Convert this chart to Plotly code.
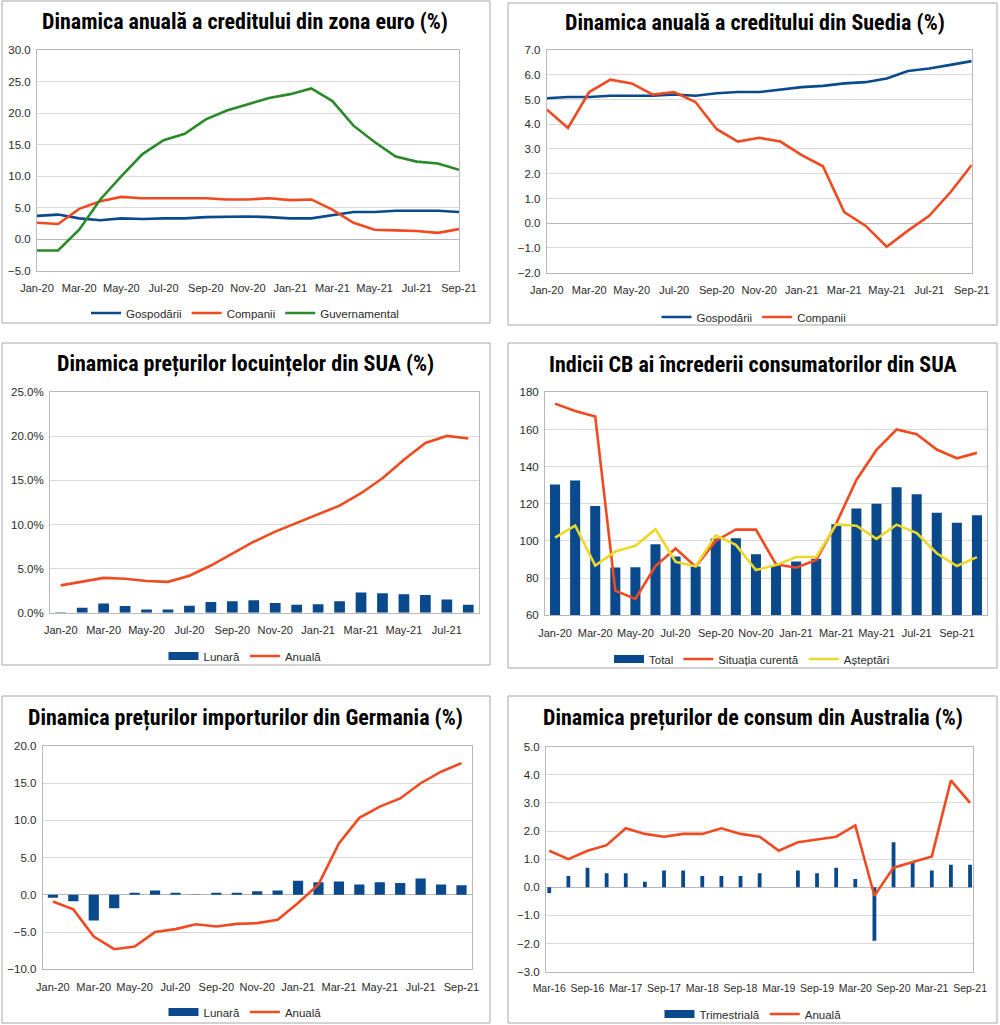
import plotly.graph_objects as go

# ---------------- data ----------------
months = ["Jan-20", "Feb-20", "Mar-20", "Apr-20", "May-20", "Jun-20", "Jul-20", "Aug-20",
          "Sep-20", "Oct-20", "Nov-20", "Dec-20", "Jan-21", "Feb-21", "Mar-21", "Apr-21",
          "May-21", "Jun-21", "Jul-21", "Aug-21", "Sep-21", "Oct-21"]
quarters = ["Mar-16", "Jun-16", "Sep-16", "Dec-16", "Mar-17", "Jun-17", "Sep-17", "Dec-17",
            "Mar-18", "Jun-18", "Sep-18", "Dec-18", "Mar-19", "Jun-19", "Sep-19", "Dec-19",
            "Mar-20", "Jun-20", "Sep-20", "Dec-20", "Mar-21", "Jun-21", "Sep-21"]

ez_gosp = [3.7, 3.9, 3.3, 3.0, 3.3, 3.2, 3.3, 3.3, 3.5, 3.6, 3.6, 3.5, 3.3, 3.3, 3.8, 4.3, 4.3, 4.5, 4.5, 4.5, 4.3]
ez_comp = [2.6, 2.4, 4.8, 6.0, 6.7, 6.5, 6.5, 6.5, 6.5, 6.3, 6.3, 6.5, 6.2, 6.3, 4.7, 2.6, 1.5, 1.4, 1.3, 1.0, 1.6]
ez_guv = [-1.8, -1.8, 1.5, 6.3, 10.0, 13.5, 15.7, 16.7, 19.0, 20.4, 21.4, 22.4, 23.0, 23.9, 21.9, 18.0, 15.4, 13.1, 12.3, 12.0, 11.0]

se_gosp = [5.05, 5.1, 5.1, 5.15, 5.15, 5.15, 5.2, 5.15, 5.25, 5.3, 5.3, 5.4, 5.5, 5.55, 5.65, 5.7, 5.85, 6.15, 6.25, 6.4, 6.55]
se_comp = [4.6, 3.85, 5.3, 5.8, 5.65, 5.2, 5.3, 4.9, 3.8, 3.3, 3.45, 3.3, 2.75, 2.3, 0.45, -0.1, -0.95, -0.3, 0.3, 1.25, 2.35]

us_hp_lunara = [0.05, 0.55, 1.05, 0.75, 0.35, 0.35, 0.8, 1.2, 1.3, 1.4, 1.1, 0.9, 0.95, 1.3, 2.3, 2.2, 2.1, 2.0, 1.5, 0.9]
us_hp_anuala = [3.1, 3.5, 3.95, 3.85, 3.6, 3.5, 4.2, 5.35, 6.7, 8.05, 9.2, 10.2, 11.2, 12.15, 13.55, 15.25, 17.35, 19.25, 20.05, 19.75]

cb_total = [130.4, 132.6, 118.8, 85.7, 85.9, 98.3, 91.7, 86.3, 101.3, 101.4, 92.9, 87.1, 88.9, 90.4, 109.0, 117.5, 120.0, 128.9, 125.1, 115.2, 109.8, 113.8]
cb_curenta = [173.9, 169.9, 167.0, 73.3, 68.8, 86.5, 95.9, 86.2, 100.0, 106.2, 106.1, 87.4, 85.6, 89.8, 109.5, 132.8, 149.0, 160.0, 157.5, 149.2, 144.5, 147.4]
cb_asteptari = [101.8, 108.3, 86.8, 94.3, 97.4, 106.3, 88.8, 86.4, 103.0, 97.9, 84.4, 87.0, 91.4, 91.4, 108.9, 108.2, 101.1, 108.8, 104.3, 93.4, 86.5, 91.3]

de_lunara = [-0.4, -0.85, -3.45, -1.8, 0.3, 0.58, 0.3, 0.05, 0.3, 0.3, 0.5, 0.6, 1.88, 1.7, 1.8, 1.4, 1.7, 1.6, 2.2, 1.4, 1.3]
de_anuala = [-0.9, -1.95, -5.6, -7.3, -6.95, -5.0, -4.6, -3.95, -4.25, -3.9, -3.8, -3.35, -1.1, 1.4, 6.9, 10.35, 11.85, 12.95, 15.0, 16.55, 17.7]

au_trim = [-0.2, 0.4, 0.7, 0.5, 0.5, 0.2, 0.6, 0.6, 0.4, 0.4, 0.4, 0.5, 0.0, 0.6, 0.5, 0.7, 0.3, -1.9, 1.6, 0.9, 0.6, 0.8, 0.8]
au_anuala = [1.3, 1.0, 1.3, 1.5, 2.1, 1.9, 1.8, 1.9, 1.9, 2.1, 1.9, 1.8, 1.3, 1.6, 1.7, 1.8, 2.2, -0.3, 0.7, 0.9, 1.1, 3.8, 3.0]

titles = ["Dinamica anuală a creditului din zona euro (%)",
          "Dinamica anuală a creditului din Suedia (%)",
          "Dinamica prețurilor locuințelor din SUA (%)",
          "Indicii CB ai încrederii consumatorilor din SUA",
          "Dinamica prețurilor importurilor din Germania (%)",
          "Dinamica prețurilor de consum din Australia (%)"]

# ---------------- style ----------------
BLUE = "#0a4a8c"
ORANGE = "#f04a20"
GREEN = "#2a8a2a"
YELLOW = "#ecd82a"
GRID = "#d9d9d9"
FRAME = "#b8b8b8"
SANS = "Liberation Sans, Arial, sans-serif"
YTICKFONT = dict(family=SANS, size=11.5, color="#2a2a2a")
XTICKFONT = dict(family=SANS, size=11, color="#2a2a2a")
XTICKFONT_SMALL = dict(family=SANS, size=10.5, color="#2a2a2a")
LEGFONT = dict(family=SANS, size=11.5, color="#2a2a2a")
TITLEFONT = dict(family="Roboto Condensed, Open Sans Condensed, DejaVu Sans Condensed, sans-serif", size=22, color="#000000")
W, H = 1000, 1025
LW = 2.6


def px_x(p):
    return p / W


def px_y(p):
    return 1 - p / H


def legend_bar(name, leg):
    # legend-only entry drawn as a wide flat block, like the reference legend
    return go.Scatter(x=[None], y=[None], name=name, mode="lines", line=dict(color=BLUE, width=8),
                      legend=leg, hoverinfo="skip")


fig = go.Figure()
m21 = months[:21]
m20 = months[:20]

# Panel 1
fig.add_trace(go.Scatter(x=m21, y=ez_gosp, name="Gospodării", mode="lines", line=dict(color=BLUE, width=LW), xaxis="x", yaxis="y", legend="legend"))
fig.add_trace(go.Scatter(x=m21, y=ez_comp, name="Companii", mode="lines", line=dict(color=ORANGE, width=LW), xaxis="x", yaxis="y", legend="legend"))
fig.add_trace(go.Scatter(x=m21, y=ez_guv, name="Guvernamental", mode="lines", line=dict(color=GREEN, width=LW), xaxis="x", yaxis="y", legend="legend"))

# Panel 2
fig.add_trace(go.Scatter(x=m21, y=se_gosp, name="Gospodării", mode="lines", line=dict(color=BLUE, width=LW), xaxis="x2", yaxis="y2", legend="legend2"))
fig.add_trace(go.Scatter(x=m21, y=se_comp, name="Companii", mode="lines", line=dict(color=ORANGE, width=LW), xaxis="x2", yaxis="y2", legend="legend2"))

# Panel 3
fig.add_trace(go.Bar(x=m20, y=us_hp_lunara, name="Lunară", showlegend=False, marker=dict(color=BLUE, line=dict(width=0)), width=0.5, xaxis="x3", yaxis="y3"))
fig.add_trace(legend_bar("Lunară", "legend3").update(xaxis="x3", yaxis="y3"))
fig.add_trace(go.Scatter(x=m20, y=us_hp_anuala, name="Anuală", mode="lines", line=dict(color=ORANGE, width=LW), xaxis="x3", yaxis="y3", legend="legend3"))

# Panel 4
fig.add_trace(go.Bar(x=months, y=cb_total, name="Total", showlegend=False, marker=dict(color=BLUE, line=dict(width=0)), width=0.5, xaxis="x4", yaxis="y4"))
fig.add_trace(legend_bar("Total", "legend4").update(xaxis="x4", yaxis="y4"))
fig.add_trace(go.Scatter(x=months, y=cb_curenta, name="Situația curentă", mode="lines", line=dict(color=ORANGE, width=LW), xaxis="x4", yaxis="y4", legend="legend4"))
fig.add_trace(go.Scatter(x=months, y=cb_asteptari, name="Așteptări", mode="lines", line=dict(color=YELLOW, width=LW), xaxis="x4", yaxis="y4", legend="legend4"))

# Panel 5
fig.add_trace(go.Bar(x=m21, y=de_lunara, name="Lunară", showlegend=False, marker=dict(color=BLUE, line=dict(width=0)), width=0.5, xaxis="x5", yaxis="y5"))
fig.add_trace(legend_bar("Lunară", "legend5").update(xaxis="x5", yaxis="y5"))
fig.add_trace(go.Scatter(x=m21, y=de_anuala, name="Anuală", mode="lines", line=dict(color=ORANGE, width=LW), xaxis="x5", yaxis="y5", legend="legend5"))

# Panel 6
fig.add_trace(go.Bar(x=quarters, y=au_trim, name="Trimestrială", showlegend=False, marker=dict(color=BLUE, line=dict(width=0)), width=0.2, xaxis="x6", yaxis="y6"))
fig.add_trace(legend_bar("Trimestrială", "legend6").update(xaxis="x6", yaxis="y6"))
fig.add_trace(go.Scatter(x=quarters, y=au_anuala, name="Anuală", mode="lines", line=dict(color=ORANGE, width=LW), xaxis="x6", yaxis="y6", legend="legend6"))

panels = [
    dict(area=(37, 459, 50, 270.7), cats=m21, xr=[0, 20], yr=[-5, 30], dt=5, suf="",
         title=(245, 21), leg=(245, 313), box=(2, 490, 1, 323), xf=XTICKFONT),
    dict(area=(546.7, 971.7, 50, 272.7), cats=m21, xr=[0, 20], yr=[-2, 7], dt=1, suf="",
         title=(755, 22), leg=(754, 317), box=(508, 997, 3, 325), xf=XTICKFONT),
    dict(area=(50, 479, 392.3, 612.7), cats=m20, xr=[-0.5, 19.5], yr=[0, 25], dt=5, suf="%",
         title=(245, 364), leg=(245, 656), box=(2, 490, 343, 665), xf=XTICKFONT),
    dict(area=(545, 987, 392.3, 615.3), cats=months, xr=[-0.5, 21.5], yr=[60, 180], dt=20, suf="",
         title=(753, 364), leg=(752, 659), box=(508, 997, 343, 668), xf=XTICKFONT),
    dict(area=(42.7, 471.7, 746, 969.3), cats=m21, xr=[-0.5, 20.5], yr=[-10, 20], dt=5, suf="",
         title=(245, 718), leg=(245, 1012), box=(2, 490, 696, 1023), xf=XTICKFONT),
    dict(area=(546, 973.3, 746.7, 971.7), cats=quarters, xr=[-0.17, 22.17], yr=[-3, 5], dt=1, suf="",
         title=(753, 718), leg=(753, 1014), box=(508, 997, 696, 1023), xf=XTICKFONT_SMALL),
]

layout = dict(
    width=W, height=H,
    margin=dict(l=0, r=0, t=0, b=0, autoexpand=False),
    paper_bgcolor="white", plot_bgcolor="white",
    showlegend=True,
    annotations=[], shapes=[],
)

for i, p in enumerate(panels):
    n = "" if i == 0 else str(i + 1)
    l, r, t, b = p["area"]
    layout["xaxis" + n] = dict(
        domain=[px_x(l), px_x(r)], anchor="y" + n, type="category",
        categoryorder="array", categoryarray=p["cats"],
        range=p["xr"], tickmode="array", tickvals=p["cats"][::2], ticktext=p["cats"][::2],
        showgrid=False, showline=True, mirror=True, linecolor=FRAME, linewidth=1,
        ticks="", ticklabelstandoff=7, tickfont=p["xf"], fixedrange=True, tickangle=0,
        automargin=False,
    )
    layout["yaxis" + n] = dict(
        domain=[px_y(b), px_y(t)], anchor="x" + n,
        range=p["yr"], dtick=p["dt"], tick0=p["yr"][0],
        tickformat=".1f" if i != 3 else "d", ticksuffix=p["suf"],
        showgrid=True, gridcolor=GRID, gridwidth=1,
        zeroline=(p["yr"][0] < 0), zerolinecolor=FRAME, zerolinewidth=1,
        showline=True, mirror=True, linecolor=FRAME, linewidth=1,
        ticks="", ticklabelstandoff=3, tickfont=YTICKFONT, fixedrange=True, automargin=False,
    )
    lx, ly = p["leg"]
    layout["legend" + n] = dict(
        orientation="h", x=px_x(lx), y=px_y(ly), xanchor="center", yanchor="middle",
        font=LEGFONT, bgcolor="rgba(0,0,0,0)", itemwidth=30, tracegroupgap=0,
    )
    tx, ty = p["title"]
    layout["annotations"].append(dict(
        text="<b>" + titles[i] + "</b>", x=px_x(tx), y=px_y(ty), xref="paper", yref="paper",
        xanchor="center", yanchor="middle", showarrow=False, font=TITLEFONT,
    ))
    x0, x1, y0, y1 = p["box"]
    layout["shapes"].append(dict(
        type="rect", xref="paper", yref="paper",
        x0=px_x(x0), x1=px_x(x1), y0=px_y(y1), y1=px_y(y0),
        line=dict(color="#a6a6a6", width=1), fillcolor="rgba(0,0,0,0)", layer="below",
    ))

fig.update_layout(**layout)
fig.write_html("out.html", config={"displayModeBar": False, "staticPlot": True},
               post_script="document.body.style.margin='0px';document.body.style.overflow='hidden';")
